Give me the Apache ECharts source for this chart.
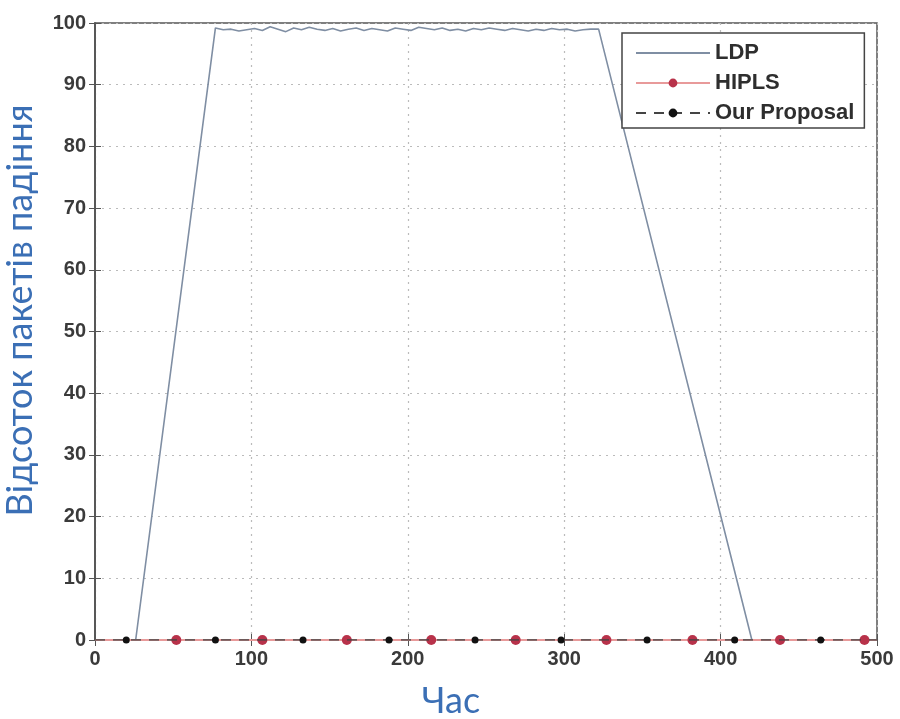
<!DOCTYPE html>
<html>
<head>
<meta charset="utf-8">
<script src="https://cdn.jsdelivr.net/npm/echarts@6/dist/echarts.min.js"></script>
<style>html,body{margin:0;padding:0;background:#fff}#c{width:900px;height:719px}</style>
</head>
<body>
<div id="c"></div>
<script>
// LDP: x positions and values
var ldpX = [0, 26, 77, 82, 87, 92, 97, 102, 107, 112, 117, 122, 127, 132, 137, 142, 147, 152, 157, 162, 167, 172, 177, 182, 187, 192, 197, 202, 207, 212, 217, 222, 227, 232, 237, 242, 247, 252, 257, 262, 267, 272, 277, 282, 287, 292, 297, 302, 307, 312, 317, 322, 420, 500];
var ldpY = [0, 0, 99.2, 98.9, 99.0, 98.7, 98.9, 99.1, 98.8, 99.4, 99.0, 98.6, 99.2, 98.9, 99.3, 99.0, 98.8, 99.1, 98.7, 99.0, 99.2, 98.8, 99.1, 98.9, 98.7, 99.2, 99.0, 98.8, 99.3, 99.1, 98.9, 99.2, 98.8, 99.0, 98.7, 99.1, 98.9, 99.2, 99.0, 98.8, 99.1, 98.9, 98.7, 99.0, 98.8, 99.1, 98.9, 99.0, 98.7, 98.9, 99.0, 99.0, 0, 0];
// HIPLS marker positions
var hiplsX = [52, 107, 161, 215, 269, 327, 382, 438, 492];
// Our Proposal marker positions
var oursX = [20, 77, 133, 188, 243, 298, 353, 409, 464];
var xTicks = [0, 100, 200, 300, 400, 500];
var yTicks = [0, 10, 20, 30, 40, 50, 60, 70, 80, 90, 100];

function markerSeries(xs) {
  var d = [{value: [0, 0], symbol: 'none'}];
  xs.forEach(function (x) { d.push([x, 0]); });
  d.push({value: [500, 0], symbol: 'none'});
  return d;
}
var ldpData = ldpX.map(function (x, i) { return [x, ldpY[i]]; });

var chart = echarts.init(document.getElementById('c'));
var lbl = {fontFamily: 'Liberation Sans', fontSize: 20, color: '#3a3a3a', fontWeight: 'bold'};
chart.setOption({
  animation: false,
  backgroundColor: '#fff',
  grid: {left: 95, right: 23, top: 23, bottom: 79, show: true, borderColor: '#555', borderWidth: 1.5,
         containLabel: false, outerBoundsMode: 'none'},
  legend: {
    left: 622, top: 33, orient: 'vertical',
    backgroundColor: '#fff', borderColor: '#444', borderWidth: 1.5,
    padding: [9, 10, 4, 13], itemGap: 8, itemWidth: 74, itemHeight: 11,
    textStyle: {fontFamily: 'Liberation Sans', fontSize: 22, color: '#2e2e2e', fontWeight: 'bold', lineHeight: 22},
    data: [{name: 'LDP', itemStyle: {opacity: 0}}, 'HIPLS', 'Our Proposal']
  },
  xAxis: [{
    type: 'value', min: 0, max: 500, interval: 100,
    name: 'Час', nameLocation: 'middle', nameGap: 43,
    nameTextStyle: {fontFamily: 'Lato', fontSize: 36, color: '#3b6fb5', padding: [0, 70, 0, 0]},
    axisLine: {show: true, lineStyle: {color: '#555', width: 1.5}},
    axisTick: {show: true, inside: true, length: 6, lineStyle: {color: '#555'}},
    axisLabel: Object.assign({margin: 9}, lbl),
    splitLine: {show: true, lineStyle: {color: '#bbb', type: [2, 5], width: 1.2}}
  }, {
    type: 'value', min: 0, max: 500, interval: 100, position: 'top',
    axisLine: {show: true, lineStyle: {color: '#555', width: 1.5}},
    axisTick: {show: true, inside: true, length: 6, lineStyle: {color: '#555'}},
    axisLabel: {show: false}, splitLine: {show: false}
  }],
  yAxis: [{
    type: 'value', min: 0, max: 100, interval: 10,
    name: 'Відсоток пакетів падіння', nameLocation: 'middle', nameGap: 57,
    nameTextStyle: {fontFamily: 'Lato', fontSize: 36, color: '#3b6fb5', padding: [0, 0, 0, 42]},
    axisLine: {show: true, lineStyle: {color: '#555', width: 1.5}},
    axisTick: {show: true, inside: true, length: 6, lineStyle: {color: '#555'}},
    axisLabel: Object.assign({margin: 9}, lbl),
    splitLine: {show: true, lineStyle: {color: '#bbb', type: [2, 5], width: 1.2}}
  }, {
    type: 'value', min: 0, max: 100, interval: 10, position: 'right',
    axisLine: {show: true, lineStyle: {color: '#555', width: 1.5}},
    axisTick: {show: true, inside: true, length: 6, lineStyle: {color: '#555'}},
    axisLabel: {show: false}, splitLine: {show: false}
  }],
  series: [{
    name: 'LDP', type: 'line', data: ldpData, showSymbol: false, symbol: 'none',
    lineStyle: {color: '#7f8ea3', width: 1.6}, itemStyle: {color: '#7f8ea3'}, z: 3
  }, {
    name: 'HIPLS', type: 'line', data: markerSeries(hiplsX),
    symbol: 'circle', symbolSize: 10,
    lineStyle: {color: '#e89a9a', width: 2}, itemStyle: {color: '#b8324a'}, z: 4
  }, {
    name: 'Our Proposal', type: 'line', data: markerSeries(oursX),
    symbol: 'circle', symbolSize: 7,
    lineStyle: {color: '#444', width: 1.5, type: [10, 8]}, itemStyle: {color: '#111'}, z: 5
  }]
});
</script>
</body>
</html>
